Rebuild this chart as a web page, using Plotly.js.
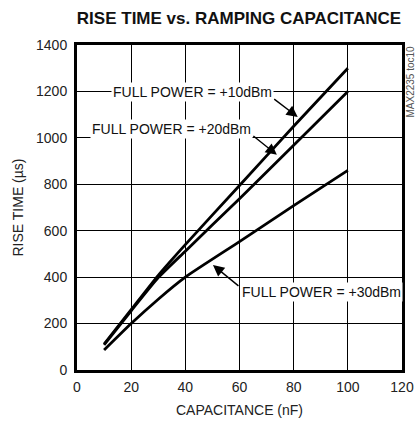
<!DOCTYPE html>
<html><head><meta charset="utf-8">
<script src="https://cdn.plot.ly/plotly-3.0.1.min.js"></script>
<style>html,body{margin:0;padding:0;background:#fff}#chart{width:417px;height:426px}</style>
</head><body><div id="chart"></div>
<script>
const capacitance = [10, 20, 30, 40, 60, 80, 100];
const rise10dBm = [112, 260, 408, 540, 795, 1050, 1300];
const rise20dBm = [108, 255, 398, 512, 738, 968, 1200];
const rise30dBm = [86, 200, 305, 400, 553, 708, 860];
const xTicks = [0, 20, 40, 60, 80, 100, 120];
const yTicks = [0, 200, 400, 600, 800, 1000, 1200, 1400];

const FONT = '"Liberation Sans", Arial, sans-serif';
const line = {color: '#000', width: 2.8, shape: 'spline', smoothing: 0.5};
const traces = [
  {x: capacitance, y: rise10dBm, mode: 'lines', line: line, name: '+10dBm'},
  {x: capacitance, y: rise20dBm, mode: 'lines', line: line, name: '+20dBm'},
  {x: capacitance, y: rise30dBm, mode: 'lines', line: line, name: '+30dBm'}
];
const axisCommon = {
  showgrid: true, gridcolor: '#000', gridwidth: 1,
  showline: true, linecolor: '#000', linewidth: 3, mirror: true,
  zeroline: false, ticks: '', fixedrange: true,
  tickfont: {family: FONT, size: 14, color: '#222'}
};
const arrowStyle = {showarrow: true, arrowhead: 2, arrowsize: 1.6, arrowwidth: 1.4, arrowcolor: '#000', text: '', axref: 'pixel', ayref: 'pixel'};
const labelStyle = {showarrow: false, bgcolor: '#fff', font: {family: FONT, size: 14, color: '#111'}, borderpad: 1};
const layout = {
  width: 417, height: 426,
  margin: {l: 77, r: 15, t: 45, b: 56},
  paper_bgcolor: '#fff', plot_bgcolor: '#fff',
  showlegend: false,
  title: {text: '<b>RISE TIME vs. RAMPING CAPACITANCE</b>', font: {family: FONT, size: 17, color: '#111'}, x: 239 / 417, xanchor: 'center', y: 1 - 18 / 426, yanchor: 'middle'},
  xaxis: Object.assign({}, axisCommon, {range: [0, 120], tickvals: xTicks, ticklabelstandoff: 2,
    title: {text: 'CAPACITANCE (nF)', font: {family: FONT, size: 14, color: '#222'}, standoff: 12}}),
  yaxis: Object.assign({}, axisCommon, {range: [0, 1400], tickvals: yTicks, ticklabelstandoff: 4,
    title: {text: 'RISE TIME (µs)', font: {family: FONT, size: 14, color: '#222'}, standoff: 10}}),
  annotations: [
    Object.assign({}, labelStyle, {x: 42.8, y: 1198, xref: 'x', yref: 'y', text: 'FULL POWER = +10dBm'}),
    Object.assign({}, labelStyle, {x: 34.9, y: 1039, xref: 'x', yref: 'y', text: 'FULL POWER = +20dBm'}),
    Object.assign({}, labelStyle, {x: 90.1, y: 336, xref: 'x', yref: 'y', text: 'FULL POWER = +30dBm'}),
    Object.assign({}, arrowStyle, {x: 81.5, y: 1090, xref: 'x', yref: 'y', ax: -25, ay: -19}),
    Object.assign({}, arrowStyle, {x: 73.8, y: 927, xref: 'x', yref: 'y', ax: -25, ay: -20}),
    Object.assign({}, arrowStyle, {x: 50.2, y: 452, xref: 'x', yref: 'y', ax: 27, ay: 22}),
    {xref: 'paper', yref: 'paper', x: 1.025, y: 1.005, xanchor: 'center', yanchor: 'top', textangle: -90, showarrow: false,
     text: 'MAX2235 toc10', font: {family: FONT, size: 10, color: '#555'}}
  ]
};
Plotly.newPlot('chart', traces, layout, {displayModeBar: false, staticPlot: true});
</script>
</body></html>
